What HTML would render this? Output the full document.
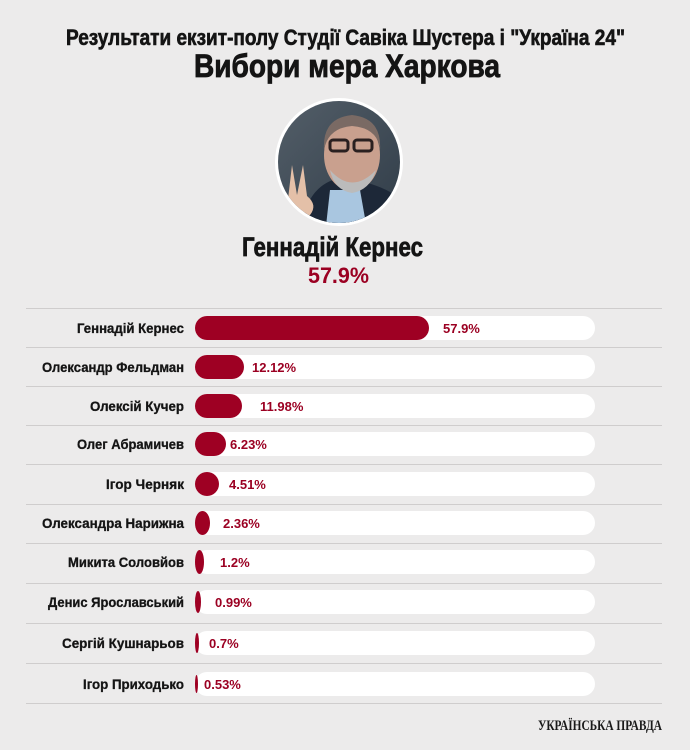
<!DOCTYPE html>
<html><head><meta charset="utf-8"><style>
html,body{margin:0;padding:0;background:#ecebeb;}
svg{display:block}
.t{font-family:"Liberation Sans Narrow","Liberation Sans",sans-serif;font-weight:bold;fill:#141414}
.p{font-family:"Liberation Sans",sans-serif;font-weight:bold;fill:#9b0022;font-size:13px}
</style></head><body>
<svg width="690" height="750" viewBox="0 0 690 750" xmlns="http://www.w3.org/2000/svg">
<rect width="690" height="750" fill="#ecebeb"/>
<text class="t" x="66" y="45" font-size="22" textLength="559" lengthAdjust="spacingAndGlyphs" stroke="#141414" stroke-width="0.6">Результати екзит-полу Студії Савіка Шустера і "Україна 24"</text>
<text class="t" x="194" y="77" font-size="32" textLength="306" lengthAdjust="spacingAndGlyphs" stroke="#141414" stroke-width="0.8">Вибори мера Харкова</text>
<defs><clipPath id="c"><circle cx="339" cy="162" r="61"/></clipPath>
<linearGradient id="bg" x1="0" y1="0" x2="1" y2="1"><stop offset="0" stop-color="#55606a"/><stop offset="1" stop-color="#2e3a46"/></linearGradient></defs>
<circle cx="339" cy="162" r="64" fill="#fff"/>
<g clip-path="url(#c)">
<rect x="270" y="95" width="140" height="140" fill="url(#bg)"/>
<path d="M300 235 Q305 185 340 178 Q380 182 402 200 L410 235Z" fill="#1d2838"/>
<path d="M330 190 L360 190 L368 235 L325 235Z" fill="#a9c6e0"/>
<ellipse cx="352" cy="155" rx="28" ry="36" fill="#c9a08e"/>
<path d="M324 150 Q322 118 352 115 Q382 118 380 150 Q378 128 352 126 Q328 128 324 150Z" fill="#7a6a64"/>
<rect x="330" y="140" width="18" height="11" rx="3" fill="none" stroke="#2a2020" stroke-width="3"/>
<rect x="354" y="140" width="18" height="11" rx="3" fill="none" stroke="#2a2020" stroke-width="3"/>
<path d="M330 170 Q352 195 376 170 Q370 190 352 193 Q334 190 330 170Z" fill="#bbb"/>
<path d="M292 165 L297 195 L303 165 L307 196 Q318 205 310 215 Q296 222 287 208 Z" fill="#e4c0a8"/>
</g>
<text class="t" x="242" y="256" font-size="27" textLength="181" lengthAdjust="spacingAndGlyphs" stroke="#141414" stroke-width="0.7">Геннадій Кернес</text>
<text x="308" y="283" font-family="Liberation Sans,sans-serif" font-weight="bold" font-size="22" fill="#9b0022" textLength="61" lengthAdjust="spacingAndGlyphs">57.9%</text>
<g stroke="#cfcdcd" stroke-width="1">
<line x1="26" x2="662" y1="308.5" y2="308.5"/><line x1="26" x2="662" y1="347.5" y2="347.5"/><line x1="26" x2="662" y1="386.5" y2="386.5"/><line x1="26" x2="662" y1="425.5" y2="425.5"/><line x1="26" x2="662" y1="464.5" y2="464.5"/><line x1="26" x2="662" y1="504.5" y2="504.5"/><line x1="26" x2="662" y1="543.5" y2="543.5"/><line x1="26" x2="662" y1="583.5" y2="583.5"/><line x1="26" x2="662" y1="623.5" y2="623.5"/><line x1="26" x2="662" y1="663.5" y2="663.5"/><line x1="26" x2="662" y1="703.5" y2="703.5"/>
</g>
<g fill="#fff">
<rect x="195" y="316" width="400" height="24" rx="12"/><rect x="195" y="355" width="400" height="24" rx="12"/><rect x="195" y="394" width="400" height="24" rx="12"/><rect x="195" y="432" width="400" height="24" rx="12"/><rect x="195" y="472" width="400" height="24" rx="12"/><rect x="195" y="511" width="400" height="24" rx="12"/><rect x="195" y="550" width="400" height="24" rx="12"/><rect x="195" y="590" width="400" height="24" rx="12"/><rect x="195" y="631" width="400" height="24" rx="12"/><rect x="195" y="672" width="400" height="24" rx="12"/>
</g>
<g fill="#9e0023">
<rect x="195" y="316" width="234" height="24" rx="12"/>
<rect x="195" y="355" width="49" height="24" rx="12"/>
<rect x="195" y="394" width="47" height="24" rx="12"/>
<rect x="195" y="432" width="31" height="24" rx="12"/>
<rect x="195" y="472" width="24" height="24" rx="12"/>
<ellipse cx="202.5" cy="523" rx="7.5" ry="12"/>
<ellipse cx="199.5" cy="562" rx="4.5" ry="12"/>
<ellipse cx="198" cy="602" rx="3" ry="11"/>
<ellipse cx="197" cy="643" rx="2" ry="10"/>
<ellipse cx="196.5" cy="684" rx="1.5" ry="9"/>
</g>
<g class="t" font-size="14" lengthAdjust="spacingAndGlyphs" stroke="#141414" stroke-width="0.3">
<text x="77" y="333" textLength="107" lengthAdjust="spacingAndGlyphs">Геннадій Кернес</text>
<text x="42" y="372" textLength="142" lengthAdjust="spacingAndGlyphs">Олександр Фельдман</text>
<text x="90" y="411" textLength="94" lengthAdjust="spacingAndGlyphs">Олексій Кучер</text>
<text x="77" y="449" textLength="107" lengthAdjust="spacingAndGlyphs">Олег Абрамичев</text>
<text x="106" y="489" textLength="78" lengthAdjust="spacingAndGlyphs">Ігор Черняк</text>
<text x="42" y="528" textLength="142" lengthAdjust="spacingAndGlyphs">Олександра Нарижна</text>
<text x="68" y="567" textLength="116" lengthAdjust="spacingAndGlyphs">Микита Соловйов</text>
<text x="48" y="607" textLength="136" lengthAdjust="spacingAndGlyphs">Денис Ярославський</text>
<text x="62" y="648" textLength="122" lengthAdjust="spacingAndGlyphs">Сергій Кушнарьов</text>
<text x="83" y="689" textLength="101" lengthAdjust="spacingAndGlyphs">Ігор Приходько</text>
</g>
<g class="p">
<text x="443" y="333">57.9%</text>
<text x="252" y="372">12.12%</text>
<text x="260" y="411">11.98%</text>
<text x="230" y="449">6.23%</text>
<text x="229" y="489">4.51%</text>
<text x="223" y="528">2.36%</text>
<text x="220" y="567">1.2%</text>
<text x="215" y="607">0.99%</text>
<text x="209" y="648">0.7%</text>
<text x="204" y="689">0.53%</text>
</g>
<text x="538" y="730" font-family="Liberation Serif,serif" font-weight="bold" font-size="15" fill="#1a1a1a" textLength="124" lengthAdjust="spacingAndGlyphs">УКРАЇНСЬКА ПРАВДА</text>
</svg>
</body></html>
